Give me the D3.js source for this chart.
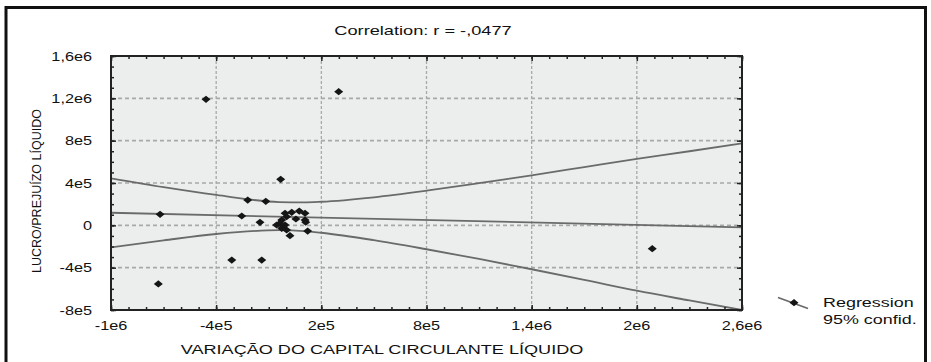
<!DOCTYPE html>
<html><head><meta charset="utf-8">
<script src="https://cdn.jsdelivr.net/npm/d3@7"></script>
<style>
body{margin:0;background:#fff;}
svg{display:block;font-family:"Liberation Sans",Arial,sans-serif;}
</style></head>
<body><svg id="c" width="931" height="362"></svg>
<script>
// ---- data ----
const title = "Correlation: r = -,0477";
const xLabel = "VARIAÇÃO DO CAPITAL CIRCULANTE LÍQUIDO";
const yLabel = "LUCRO/PREJUÍZO LÍQUIDO";
const xTicks = [-1e6, -4e5, 2e5, 8e5, 1.4e6, 2e6, 2.6e6];
const xTickLabels = ["-1e6", "-4e5", "2e5", "8e5", "1,4e6", "2e6", "2,6e6"];
const yTicks = [-8e5, -4e5, 0, 4e5, 8e5, 1.2e6, 1.6e6];
const yTickLabels = ["-8e5", "-4e5", "0", "4e5", "8e5", "1,2e6", "1,6e6"];
const pointsX = [-7.2e5, -7.3e5, -3.11e5, -1.4e5, -4.58e5, 2.99e5, 2.088e6, -2.2e5, -1.17e5, -3.2e4,
  -2.54e5, -1.5e5, -7e3, 3.1e4, 7.4e4, 1.07e5, 1.07e5, 5.5e4, 2e3, -2.6e4,
  -3.6e4, -7e3, -5.5e4, -2.6e4, 2e3, 2.1e4, 1.22e5, 1.11e5];
const pointsY = [1.04e5, -5.54e5, -3.28e5, -3.28e5, 1.191e6, 1.263e6, -2.21e5, 2.39e5, 2.27e5, 4.35e5,
  8.8e4, 2.8e4, 1.14e5, 1.23e5, 1.35e5, 1.14e5, 5.0e4, 6.0e4, 8.2e4, 5.0e4,
  1.9e4, 3e3, 3e3, -2.8e4, -4.4e4, -9.8e4, -5.4e4, 3.0e4];
const regX = [-1e6, 2.6e6];
const regY = [1.19e5, -1.9e4];
const bandX = [-1e6, -7e5, -4e5, -4e4, 1e5, 2e5, 5e5, 8e5, 1.1e6, 1.4e6, 1.7e6, 2e6, 2.3e6, 2.6e6];
const bandUpper = [4.44e5, 3.6e5, 2.87e5, 2.2e5, 2.17e5, 2.23e5, 2.65e5, 3.27e5, 3.98e5, 4.73e5, 5.5e5, 6.27e5, 7.0e5, 7.75e5];
const bandLower = [-2.08e5, -1.42e5, -8.2e4, -4.6e4, -5.4e4, -7.0e4, -1.4e5, -2.26e5, -3.18e5, -4.15e5, -5.15e5, -6.18e5, -7.1e5, -8.0e5];
const legendItems = ["Regression", "95% confid."];

// ---- layout ----
const svg = d3.select("#c");
const L = 111, R = 742, T = 56, B = 310;
const x = d3.scaleLinear().domain([-1e6, 2.6e6]).range([L, R]);
const y = d3.scaleLinear().domain([-8e5, 1.6e6]).range([B, T]);

// text with horizontal stretch (the reference is horizontally widened)
function stext(parent, px, py, str, size, sx, anchor) {
  return parent.append("text")
    .attr("transform", `translate(${px},${py}) scale(${sx},1)`)
    .attr("text-anchor", anchor).attr("font-size", size).attr("fill", "#111").text(str);
}

// outer frame
svg.append("rect").attr("x", 6).attr("y", 7.5).attr("width", 919.5).attr("height", 370)
  .attr("fill", "none").attr("stroke", "#111").attr("stroke-width", 3);

stext(svg, 423, 35, title, 13, 1.4, "middle");

// plot background
svg.append("rect").attr("x", L).attr("y", T).attr("width", R - L).attr("height", B - T)
  .attr("fill", "#eceeee");

// gridlines
const gx = xTicks.filter(v => v > -1e6 && v < 2.6e6);
const gy = yTicks.filter(v => v > -8e5 && v < 1.6e6);
svg.append("g").selectAll("line").data(gx).join("line")
  .attr("x1", d => x(d)).attr("x2", d => x(d)).attr("y1", T).attr("y2", B)
  .attr("stroke", "#a8a8a8").attr("stroke-width", 1.3).attr("stroke-dasharray", "3,2");
svg.append("g").selectAll("line").data(gy).join("line")
  .attr("y1", d => y(d)).attr("y2", d => y(d)).attr("x1", L).attr("x2", R)
  .attr("stroke", "#a8a8a8").attr("stroke-width", 1.6).attr("stroke-dasharray", "4,3");

// clip
svg.append("clipPath").attr("id", "clip").append("rect")
  .attr("x", L).attr("y", T).attr("width", R - L).attr("height", B - T);
const g = svg.append("g").attr("clip-path", "url(#clip)");

const lineGen = d3.line().x(d => x(d[0])).y(d => y(d[1])).curve(d3.curveMonotoneX);
const lineStyle = sel => sel.attr("fill", "none").attr("stroke", "#6a6a6a").attr("stroke-width", 1.8);
g.append("path").datum(bandX.map((v, i) => [v, bandUpper[i]])).attr("d", lineGen).call(lineStyle);
g.append("path").datum(bandX.map((v, i) => [v, bandLower[i]])).attr("d", lineGen).call(lineStyle);
g.append("path").datum(regX.map((v, i) => [v, regY[i]])).attr("d", lineGen).call(lineStyle);

// points (diamonds)
const diamond = (cx, cy) => `M${cx - 4.5},${cy}L${cx},${cy - 3.6}L${cx + 4.5},${cy}L${cx},${cy + 3.6}Z`;
svg.append("g").selectAll("path").data(pointsX.map((v, i) => [v, pointsY[i]])).join("path")
  .attr("d", d => diamond(x(d[0]), y(d[1]))).attr("fill", "#151515");

// axes with inner ticks
const axisColor = "#222";
function addAxis(axis, tx, ty) {
  const a = svg.append("g").attr("transform", `translate(${tx},${ty})`).call(axis);
  a.select(".domain").remove();
  a.selectAll("line").attr("stroke", axisColor).attr("stroke-width", 1.5);
  a.selectAll("text").remove();
}
const xMinor = d3.range(-1e6, 2.6e6 + 1, 1e5);
const yMinor = d3.range(-8e5, 1.6e6 + 1, 1e5);
addAxis(d3.axisTop(x).tickValues(xMinor).tickSize(3), 0, B);
addAxis(d3.axisBottom(x).tickValues(xMinor).tickSize(3), 0, T);
addAxis(d3.axisRight(y).tickValues(yMinor).tickSize(3), L, 0);
addAxis(d3.axisLeft(y).tickValues(yMinor).tickSize(3), R, 0);
addAxis(d3.axisTop(x).tickValues(xTicks).tickSize(5), 0, B);
addAxis(d3.axisBottom(x).tickValues(xTicks).tickSize(5), 0, T);
addAxis(d3.axisRight(y).tickValues(yTicks).tickSize(5), L, 0);
addAxis(d3.axisLeft(y).tickValues(yTicks).tickSize(5), R, 0);

// plot border
svg.append("rect").attr("x", L).attr("y", T).attr("width", R - L).attr("height", B - T)
  .attr("fill", "none").attr("stroke", axisColor).attr("stroke-width", 2);

// tick labels
const xl = svg.append("g");
xTicks.forEach((v, i) => stext(xl, x(v), 329.5, xTickLabels[i], 13, 1.25, "middle"));
const yl = svg.append("g");
yTicks.forEach((v, i) => stext(yl, 92, y(v) + 4.5, yTickLabels[i], 13, 1.25, "end"));

// axis titles
stext(svg, 382, 354, xLabel, 13.5, 1.34, "middle");
svg.append("text").attr("transform", "translate(41,191) rotate(-90)").attr("text-anchor", "middle")
  .attr("font-size", 12.5).attr("fill", "#111").text(yLabel);

// legend
svg.append("line").attr("x1", 778).attr("y1", 297.5).attr("x2", 808).attr("y2", 308.5)
  .attr("stroke", "#6a6a6a").attr("stroke-width", 1.8);
svg.append("path").attr("d", diamond(794, 302.7)).attr("fill", "#151515");
const lg = svg.append("g");
legendItems.forEach((d, i) => stext(lg, 823, 307 + i * 17, d, 13, 1.38, "start"));
</script></body></html>
